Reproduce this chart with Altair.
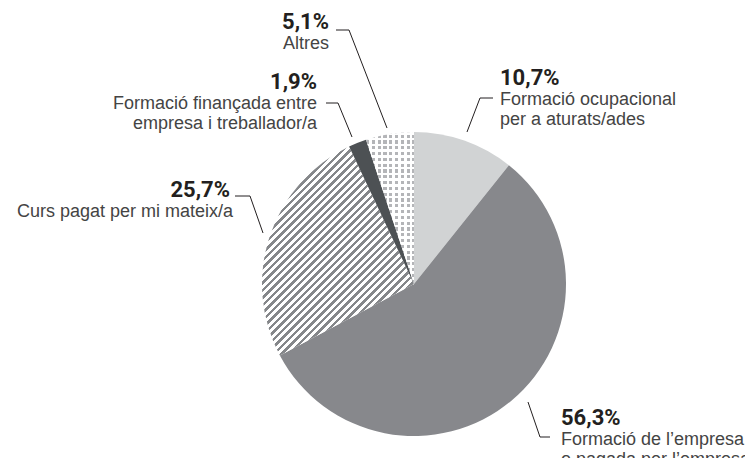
import math
import altair as alt
import pandas as pd

# ---------------- data ----------------
categories = [
    "Formació ocupacional per a aturats/ades",
    "Formació de l’empresa o pagada per l’empresa",
    "Curs pagat per mi mateix/a",
    "Formació finançada entre empresa i treballador/a",
    "Altres",
]
values = [10.7, 56.3, 25.7, 1.9, 5.1]
label_lines = [
    ["Formació ocupacional", "per a aturats/ades"],
    ["Formació de l’empresa", "o pagada per l’empresa"],
    ["Curs pagat per mi mateix/a"],
    ["Formació finançada entre", "empresa i treballador/a"],
    ["Altres"],
]

# ---------------- layout / style ----------------
W, H = 737, 450
CX, CY, R = 406, 276, 152
anchor_x = [492, 553, 222, 309, 321]
anchor_y = [77, 417, 189, 81, 21]
anchor_align = ["left", "left", "right", "right", "right"]
line_dx = [0, 0, 3, 0, 0]
line_offsets = [20, 39.5]
leader_paths = [
    [(459, 124), (472, 90), (485, 90)],
    [(520, 394), (532, 429), (542, 429)],
    [(255, 225), (242, 188), (227, 188)],
    [(344, 129), (330, 95), (318, 95)],
    [(379, 120), (341, 22), (328, 22)],
]

C_LIGHT = "#d1d3d4"
C_MID = "#87888c"
C_DARK = "#4d5154"
C_STRIPE = "#85878a"
C_DOT = "#b4b5b8"
C_TEXT = "#444444"
C_PCT = "#231f20"
PCT_FONT = "Roboto, 'Liberation Sans', Arial, sans-serif"
LBL_FONT = "'Liberation Sans', Arial, sans-serif"


def stripe_stops(length, period, frac, c_on, c_off):
    stops = []
    pos = 0.0
    while pos < length:
        a = pos / length
        b = min(1.0, (pos + frac * period) / length)
        c = min(1.0, (pos + period) / length)
        stops += [
            {"offset": a, "color": c_on},
            {"offset": b, "color": c_on},
            {"offset": b, "color": c_off},
            {"offset": c, "color": c_off},
        ]
        pos += period
    return stops


def slice_bbox(a0, a1):
    pts = [(CX, CY)]
    for a in [a0, a1] + [k * math.pi / 2 for k in range(5)]:
        if a0 - 1e-9 <= a <= a1 + 1e-9:
            pts.append((CX + R * math.sin(a), CY - R * math.cos(a)))
    xs = [p[0] for p in pts]
    ys = [p[1] for p in pts]
    return min(xs), min(ys), max(xs) - min(xs), max(ys) - min(ys)


total = sum(values)
cum = [0.0]
for v in values:
    cum.append(cum[-1] + v)
angles = [(cum[i] / total * 2 * math.pi, cum[i + 1] / total * 2 * math.pi) for i in range(len(values))]

# diagonal hatch for slice 2
_, _, hw, hh = slice_bbox(*angles[2])
s = (hw + hh) / (hw * hw + hh * hh)
hatch = {
    "gradient": "linear",
    "x1": 0, "y1": 0, "x2": hw * s, "y2": hh * s,
    "stops": stripe_stops(hw + hh, 7.5, 0.5, C_STRIPE, "#ffffff"),
}

# dot pattern for slice 4 (vertical stripes + horizontal white overlay)
_, _, dw, dh = slice_bbox(*angles[4])
dots_base = {
    "gradient": "linear",
    "x1": 0, "y1": 0, "x2": 1, "y2": 0,
    "stops": stripe_stops(dw, 5.8, 0.55, C_DOT, "#ffffff"),
}
dots_over = {
    "gradient": "linear",
    "x1": 0, "y1": 0, "x2": 0, "y2": 1,
    "stops": stripe_stops(dh, 5.8, 0.45, "rgba(255,255,255,1)", "rgba(255,255,255,0)"),
}

fills = [C_LIGHT, C_MID, hatch, C_DARK, dots_base]

# ---------------- tables ----------------
pie_df = pd.DataFrame({"idx": list(range(len(values))), "cat": categories, "value": values})

rows = []
for i, v in enumerate(values):
    pct = f"{v:.1f}".replace(".", ",") + "%"
    rows.append({"idx": i, "text": pct, "x": anchor_x[i], "y": anchor_y[i],
                 "align": anchor_align[i], "kind": "pct"})
    for k, line in enumerate(label_lines[i]):
        dx = line_dx[i] if anchor_align[i] == "right" else -line_dx[i]
        rows.append({"idx": i, "text": line, "x": anchor_x[i] + dx,
                     "y": anchor_y[i] + line_offsets[k], "align": anchor_align[i], "kind": "lbl"})
text_df = pd.DataFrame(rows)

lrows = []
for i, path in enumerate(leader_paths):
    for o, (x, y) in enumerate(path):
        lrows.append({"idx": i, "o": o, "x": x, "y": y})
leader_df = pd.DataFrame(lrows)

xs = alt.Scale(domain=[0, W], nice=False, zero=False)
ys = alt.Scale(domain=[0, H], nice=False, zero=False, reverse=True)

base = (
    alt.Chart(pie_df)
    .transform_joinaggregate(total="sum(value)")
    .transform_window(cum="sum(value)", sort=[alt.SortField("idx")])
    .transform_calculate(t0="(datum.cum - datum.value) / datum.total", t1="datum.cum / datum.total")
)

fill_cond = {
    "condition": [{"test": f"datum.idx == {k}", "value": fills[k]} for k in range(len(values))],
    "value": "#ffffff",
}

pie = base.mark_arc(radius=R).encode(
    theta=alt.Theta("t0:Q", scale=alt.Scale(domain=[0, 1])),
    theta2="t1:Q",
    x=alt.value(CX),
    y=alt.value(CY),
    fill=fill_cond,
)

overlay = base.transform_filter("datum.idx == 4").mark_arc(radius=R).encode(
    theta=alt.Theta("t0:Q", scale=alt.Scale(domain=[0, 1])),
    theta2="t1:Q",
    x=alt.value(CX),
    y=alt.value(CY),
    fill=alt.value(dots_over),
)

leaders = alt.Chart(leader_df).mark_line(color=C_PCT, strokeWidth=1).encode(
    x=alt.X("x:Q", scale=xs, axis=None),
    y=alt.Y("y:Q", scale=ys, axis=None),
    detail="idx:N",
    order="o:Q",
)


def text_layer(kind, align):
    if kind == "pct":
        mk = dict(font=PCT_FONT, fontSize=22, fontWeight="bold", color=C_PCT)
    else:
        mk = dict(font=LBL_FONT, fontSize=18, color=C_TEXT)
    return (
        alt.Chart(text_df)
        .transform_filter(f"datum.kind == '{kind}' && datum.align == '{align}'")
        .mark_text(align=align, baseline="alphabetic", **mk)
        .encode(
            x=alt.X("x:Q", scale=xs, axis=None),
            y=alt.Y("y:Q", scale=ys, axis=None),
            text="text:N",
        )
    )


chart = (
    alt.layer(
        pie, overlay, leaders,
        text_layer("pct", "left"), text_layer("pct", "right"),
        text_layer("lbl", "left"), text_layer("lbl", "right"),
    )
    .properties(width=W, height=H, padding=0, autosize=alt.AutoSizeParams(type="none"))
    .configure_view(stroke=None)
)

chart.save("out.html", embed_options={"renderer": "svg", "actions": False})
